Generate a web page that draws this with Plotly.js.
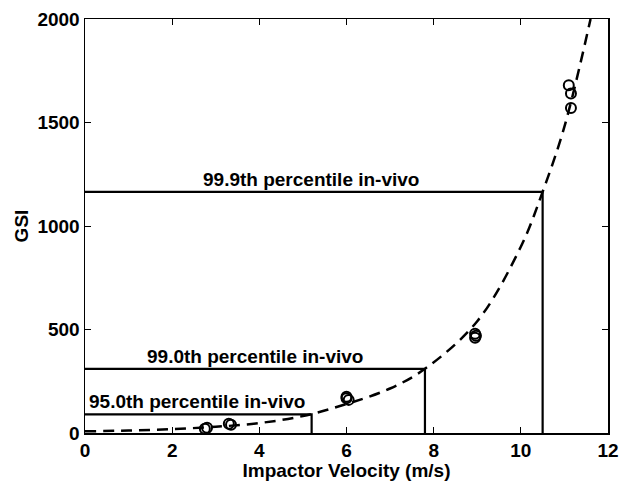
<!DOCTYPE html>
<html><head><meta charset="utf-8">
<script src="https://cdn.plot.ly/plotly-3.0.1.min.js"></script>
<style>html,body{margin:0;padding:0;background:#fff}#chart{width:619px;height:481px}</style>
</head><body><div id="chart"></div>
<script>
// Fitted curve
const curveV = [0, 1, 2, 3, 4, 5, 6, 7, 7.8, 9, 10, 10.5, 11, 11.6];
const curveGSI = [8, 12, 19, 30, 48, 82, 140, 215, 310, 540, 900, 1165, 1480, 2000];
// Measured data points
const ptV = [2.75, 2.8, 3.3, 3.35, 6.0, 6.05, 6.0, 8.95, 8.95, 8.97, 11.1, 11.15, 11.15];
const ptGSI = [20, 25, 45, 40, 175, 160, 168, 480, 460, 470, 1680, 1640, 1570];
// Percentile thresholds
const pctLabels = ["95.0th percentile in-vivo", "99.0th percentile in-vivo", "99.9th percentile in-vivo"];
const pctV = [5.2, 7.8, 10.5];
const pctGSI = [90, 310, 1165];
const labelV = [2.57, 3.9, 5.18];

const F = 'Liberation Sans, Arial, sans-serif';
const traces = [
  {x: curveV, y: curveGSI, mode: 'lines', line: {color: '#000', width: 2.5, dash: '11px,7px', shape: 'spline'}, hoverinfo: 'skip'},
  {x: ptV, y: ptGSI, mode: 'markers', marker: {symbol: 'circle-open', size: 10, color: '#000', line: {width: 2}}}
];
pctV.forEach((v, i) => {
  traces.push({x: [0, v, v], y: [pctGSI[i], pctGSI[i], 0], mode: 'lines', line: {color: '#000', width: 2.2}});
});
const annotations = pctLabels.map((t, i) => ({
  x: labelV[i], y: pctGSI[i], xref: 'x', yref: 'y', text: t, showarrow: false,
  yanchor: 'bottom', yshift: 0, font: {family: F, size: 19, color: '#000', weight: 'bold'}
}));
const axFont = {family: F, size: 19, color: '#000', weight: 'bold'};
const layout = {
  width: 619, height: 481, showlegend: false,
  margin: {l: 85, r: 11, t: 19, b: 48},
  paper_bgcolor: '#fff', plot_bgcolor: '#fff',
  xaxis: {range: [0, 12], tickvals: [0, 2, 4, 6, 8, 10, 12], ticks: 'inside', ticklen: 6, tickcolor: '#000',
    ticklabeloverflow: 'allow',
    showgrid: false, zeroline: false, showline: true, linecolor: '#000', linewidth: 1.5, mirror: 'ticks',
    tickfont: axFont, title: {text: 'Impactor Velocity (m/s)', font: {family: F, size: 19, color: '#000', weight: 'bold'}, standoff: 0}},
  yaxis: {range: [0, 2000], tickvals: [0, 500, 1000, 1500, 2000], ticks: 'inside', ticklen: 6, tickcolor: '#000',
    ticklabeloverflow: 'allow',
    showgrid: false, zeroline: false, showline: true, linecolor: '#000', linewidth: 1.5, mirror: 'ticks',
    tickfont: axFont, title: {text: 'GSI', font: {family: F, size: 19, color: '#000', weight: 'bold'}, standoff: 4}},
  annotations: annotations
};
Plotly.newPlot('chart', traces, layout, {displayModeBar: false, staticPlot: true});
</script></body></html>
